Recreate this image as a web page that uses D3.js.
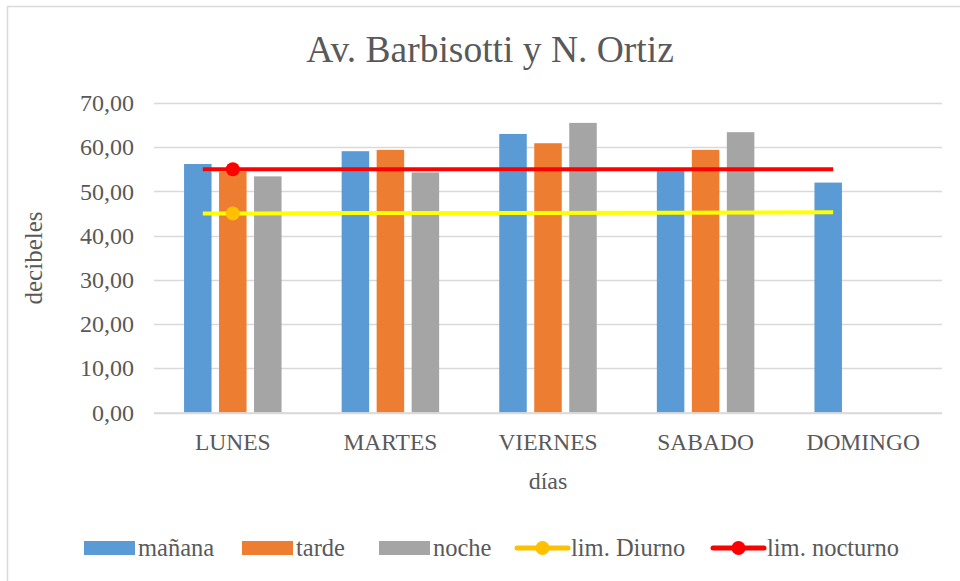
<!DOCTYPE html>
<html>
<head>
<meta charset="utf-8">
<script src="https://cdn.jsdelivr.net/npm/d3@7"></script>
<style>
  body { margin: 0; background: #fff; }
  svg text { font-family: "Liberation Serif", "Times New Roman", serif; fill: #595959; }
</style>
</head>
<body>
<div id="chart"></div>
<script>
// data
var days = ["LUNES", "MARTES", "VIERNES", "SABADO", "DOMINGO"];
var manana = [56.2, 59.1, 63.0, 54.7, 52.0];
var tarde = [54.5, 59.4, 60.9, 59.4, null];
var noche = [53.4, 54.3, 65.5, 63.4, null];
var limDiurno = [45.0, 45.1, 45.1, 45.2, 45.3];
var limNocturno = [55.0, 55.0, 55.0, 55.0, 55.0];
var yTicks = [0, 10, 20, 30, 40, 50, 60, 70];

var barSeries = [
  {name: "mañana", values: manana, color: "#5B9BD5"},
  {name: "tarde", values: tarde, color: "#ED7D31"},
  {name: "noche", values: noche, color: "#A5A5A5"}
];
var lineSeries = [
  {name: "lim. Diurno", values: limDiurno, color: "#FFFF00", marker: "#FFC000", legendColor: "#FFC000"},
  {name: "lim. nocturno", values: limNocturno, color: "#FF0000", marker: "#FF0000", legendColor: "#FF0000"}
];

// chart dimensions
var width = 960, height = 581;
var plot = {left: 154, right: 942, top: 103, bottom: 412.5};

var svg = d3.select('#chart')
  .append('svg')
  .attr('width', width)
  .attr('height', height);

// outer chart border
svg.append('rect')
  .attr('x', 7.5).attr('y', 6.5)
  .attr('width', 1000).attr('height', 1000)
  .attr('fill', 'none')
  .attr('stroke', '#D9D9D9')
  .attr('stroke-width', 1.5);

var x = d3.scaleBand()
  .domain(days)
  .range([plot.left, plot.right]);

var x1 = d3.scaleBand()
  .domain(barSeries.map(function(s) { return s.name; }))
  .range([-48.75, 48.75])
  .paddingInner(0.214);

var y = d3.scaleLinear()
  .domain([0, 70])
  .range([plot.bottom, plot.top]);

// gridlines
svg.append('g')
  .selectAll('line')
  .data(yTicks)
  .enter()
  .append('line')
  .attr('x1', plot.left)
  .attr('x2', plot.right)
  .attr('y1', function(d) { return Math.round(y(d)) + 0.5; })
  .attr('y2', function(d) { return Math.round(y(d)) + 0.5; })
  .attr('stroke', '#D9D9D9')
  .attr('stroke-width', 1.5);

// y tick labels
var fmt = function(d) { return d3.format('.2f')(d).replace('.', ','); };
svg.append('g')
  .selectAll('text')
  .data(yTicks)
  .enter()
  .append('text')
  .attr('x', 134)
  .attr('y', function(d) { return y(d); })
  .attr('dy', '0.34em')
  .attr('text-anchor', 'end')
  .style('font-size', '24px')
  .text(fmt);

// bars
barSeries.forEach(function(s) {
  svg.append('g')
    .selectAll('rect')
    .data(days.map(function(d, i) { return {day: d, value: s.values[i]}; })
      .filter(function(d) { return d.value != null; }))
    .enter()
    .append('rect')
    .attr('x', function(d) { return x(d.day) + x.bandwidth() / 2 + x1(s.name); })
    .attr('width', x1.bandwidth())
    .attr('y', function(d) { return y(d.value); })
    .attr('height', function(d) { return y(0) - y(d.value); })
    .attr('fill', s.color);
});

// category axis line
svg.append('line')
  .attr('x1', plot.left).attr('x2', plot.right)
  .attr('y1', y(0) + 0.5).attr('y2', y(0) + 0.5)
  .attr('stroke', '#D9D9D9')
  .attr('stroke-width', 1.5);

// limit lines, drawn a little left of the category centers
var lineShift = -30;
var line = d3.line()
  .x(function(d) { return x(d.day) + x.bandwidth() / 2 + lineShift; })
  .y(function(d) { return y(d.value); });

lineSeries.forEach(function(s) {
  var pts = days.map(function(d, i) { return {day: d, value: s.values[i]}; });
  svg.append('path')
    .datum(pts)
    .attr('d', line)
    .attr('fill', 'none')
    .attr('stroke', s.color)
    .attr('stroke-width', 4);
  // marker only on the first day
  svg.append('circle')
    .attr('cx', x(pts[0].day) + x.bandwidth() / 2)
    .attr('cy', y(pts[0].value))
    .attr('r', 7)
    .attr('fill', s.marker);
});

// category labels
svg.append('g')
  .selectAll('text')
  .data(days)
  .enter()
  .append('text')
  .attr('x', function(d) { return x(d) + x.bandwidth() / 2; })
  .attr('y', 450)
  .attr('text-anchor', 'middle')
  .style('font-size', '23.5px')
  .text(function(d) { return d; });

// title and axis titles
svg.append('text')
  .attr('x', 490).attr('y', 62)
  .attr('text-anchor', 'middle')
  .style('font-size', '37.5px')
  .text('Av. Barbisotti y N. Ortiz');

svg.append('text')
  .attr('x', 548).attr('y', 489)
  .attr('text-anchor', 'middle')
  .style('font-size', '24px')
  .text('días');

svg.append('text')
  .attr('transform', 'translate(42,258) rotate(-90)')
  .attr('text-anchor', 'middle')
  .style('font-size', '25px')
  .text('decibeles');

// legend
var legendX = [84, 242, 379, 517, 713];
var legendY = 548;
var keyW = 51;
var items = barSeries.map(function(s) { return {name: s.name, color: s.color, type: 'bar'}; })
  .concat(lineSeries.map(function(s) { return {name: s.name, color: s.legendColor, type: 'line'}; }));

var legend = svg.selectAll('.legend')
  .data(items)
  .enter()
  .append('g')
  .attr('class', 'legend')
  .attr('transform', function(d, i) { return 'translate(' + legendX[i] + ',' + legendY + ')'; });

legend.filter(function(d) { return d.type === 'bar'; })
  .append('rect')
  .attr('x', 0).attr('y', -7)
  .attr('width', keyW).attr('height', 14)
  .attr('fill', function(d) { return d.color; });

legend.filter(function(d) { return d.type === 'line'; })
  .append('line')
  .attr('x1', 0).attr('x2', keyW)
  .attr('y1', 0).attr('y2', 0)
  .attr('stroke', function(d) { return d.color; })
  .attr('stroke-width', 5)
  .attr('stroke-linecap', 'round');

legend.filter(function(d) { return d.type === 'line'; })
  .append('circle')
  .attr('cx', keyW / 2).attr('cy', 0)
  .attr('r', 7)
  .attr('fill', function(d) { return d.color; });

legend.append('text')
  .attr('x', keyW + 3)
  .attr('y', 0)
  .attr('dy', '0.34em')
  .style('font-size', '24.5px')
  .text(function(d) { return d.name; });
</script>
</body>
</html>
